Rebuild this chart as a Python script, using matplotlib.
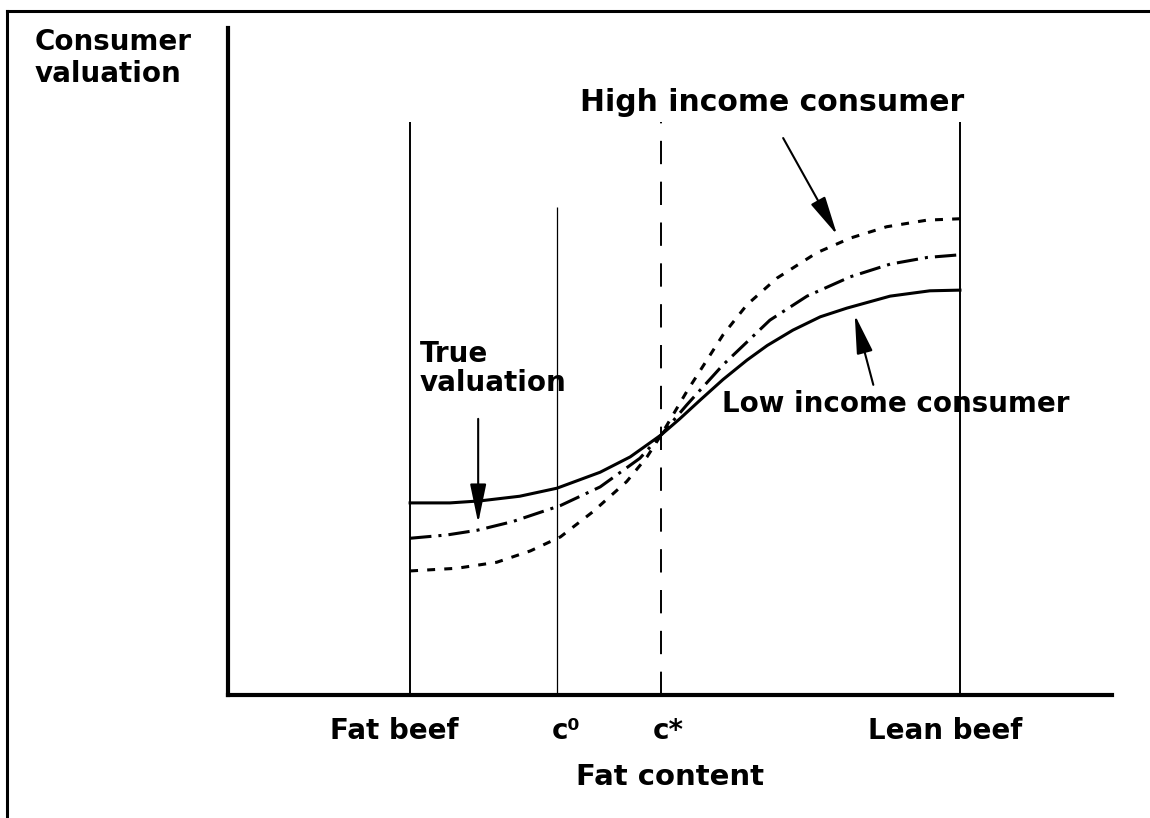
import matplotlib
matplotlib.use('Agg')
import matplotlib.pyplot as plt
from matplotlib.lines import Line2D

# values (both axes run 0..10)
low_x = [2.06, 2.51, 2.85, 3.30, 3.72, 4.21, 4.55, 4.90, 5.11, 5.34, 5.60, 5.87, 6.10, 6.39, 6.70, 7.00, 7.49, 7.94, 8.28]
low_income = [2.88, 2.88, 2.91, 2.98, 3.10, 3.34, 3.57, 3.90, 4.14, 4.42, 4.73, 5.02, 5.24, 5.47, 5.67, 5.80, 5.98, 6.06, 6.07]

true_x = [2.06, 2.48, 2.82, 3.22, 3.76, 4.21, 4.66, 4.90, 5.19, 5.60, 6.13, 6.55, 7.04, 7.49, 7.91, 8.28]
true_valuation = [2.35, 2.40, 2.47, 2.60, 2.84, 3.12, 3.55, 3.90, 4.35, 4.95, 5.62, 5.98, 6.27, 6.46, 6.56, 6.60]

high_x = [2.06, 2.59, 3.04, 3.42, 3.76, 4.13, 4.51, 4.74, 4.90, 5.19, 5.60, 5.87, 6.21, 6.66, 7.04, 7.45, 7.91, 8.28]
high_income = [1.86, 1.90, 1.99, 2.16, 2.37, 2.75, 3.20, 3.57, 3.90, 4.55, 5.40, 5.85, 6.25, 6.63, 6.85, 7.02, 7.12, 7.14]

guide_x = [2.06, 3.72, 4.90, 8.28]       # fat beef, c0, c*, lean beef
guide_tops = [8.59, 7.32, 8.59, 8.59]
label_x = [1.88, 3.82, 4.98, 8.11]
tick_labels = ['Fat beef', 'c\u2070', 'c*', 'Lean beef']

plt.rcParams['font.family'] = ['DejaVu Sans']
plt.rcParams['font.weight'] = 'bold'
FS = 20

fig = plt.figure(figsize=(11.5, 8.18), dpi=100)
ax = fig.add_axes([228/1150, 123/818, 884/1150, 667/818])
ax.set_xlim(0, 10)
ax.set_ylim(0, 10)

for s in ['top', 'right']:
    ax.spines[s].set_visible(False)
for s in ['left', 'bottom']:
    ax.spines[s].set_linewidth(3)
ax.set_yticks([])
ax.set_xticks(label_x)
ax.set_xticklabels(tick_labels, fontsize=FS, fontweight='bold')
ax.tick_params(axis='x', length=0, pad=16)
ax.set_xlabel('Fat content', fontsize=21, fontweight='bold', labelpad=13)

# guide lines
ax.vlines(guide_x[0], 0, guide_tops[0], color='k', lw=1.4)
ax.vlines(guide_x[1], 0, guide_tops[1], color='k', lw=0.9)
ax.vlines(guide_x[3], 0, guide_tops[3], color='k', lw=1.4)
ax.plot([guide_x[2], guide_x[2]], [0, guide_tops[2]], color='k', lw=1.4, dashes=(12, 9))

# curves
ax.plot(low_x, low_income, color='k', lw=2.2, solid_joinstyle='round')
ax.plot(true_x, true_valuation, color='k', lw=2.2, dashes=(7, 2.3, 1, 2.3),
        dash_joinstyle='round')
ax.plot(high_x, high_income, color='k', lw=2.2, dashes=(2.6, 3), dash_joinstyle='round')

# labels and arrows
arrow = dict(arrowstyle='-|>,head_length=1.2,head_width=0.25', color='k', lw=1.5,
             mutation_scale=20, shrinkA=0, shrinkB=0)
ax.text(3.98, 8.88, 'High income consumer', fontsize=21.5, fontweight='bold', va='center')
ax.annotate('', xy=(6.89, 6.90), xytext=(6.28, 8.35), arrowprops=arrow)
ax.text(5.59, 4.36, 'Low income consumer', fontsize=FS, fontweight='bold', va='center')
ax.annotate('', xy=(7.09, 5.70), xytext=(7.30, 4.65), arrowprops=arrow)
ax.text(2.17, 5.32, 'True\nvaluation', fontsize=FS, fontweight='bold', va='top', linespacing=1.05)
ax.annotate('', xy=(2.83, 2.58), xytext=(2.83, 4.14), arrowprops=arrow)

fig.text(35/1150, 1 - 28/818, 'Consumer\nvaluation', fontsize=FS, fontweight='bold',
         va='top', ha='left', linespacing=1.2)

# frame lines around the figure (top and left only)
fig.add_artist(Line2D([7/1150, 1], [1 - 11/818, 1 - 11/818], color='k', lw=2.2))
fig.add_artist(Line2D([7/1150, 7/1150], [0, 1 - 11/818], color='k', lw=2.2))

fig.savefig('out.png', dpi=100)
